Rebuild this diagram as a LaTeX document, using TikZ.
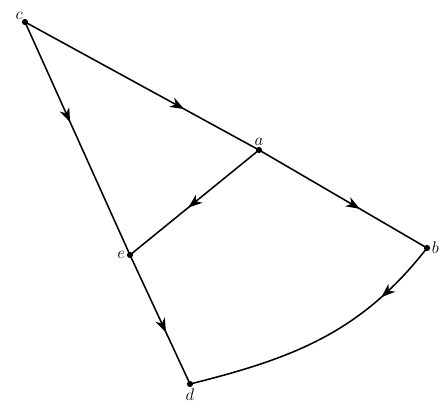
\documentclass[tikz,border=0pt]{standalone}
\usepackage{amsmath,amssymb}
\usepackage{xcolor}
\usetikzlibrary{arrows.meta,decorations.markings}

\tikzset{
  edge/.style={line width=1.1pt},
  midarrow/.style={postaction={decorate},
    decoration={markings,mark=at position #1 with {\arrow{Stealth[length=3.5mm,width=2.6mm,inset=1.1mm]}}}},
  vdot/.style={circle,fill,inner sep=0pt,minimum size=4.4pt},
  vlabel/.style={font=\large}
}

\begin{document}
\begin{tikzpicture}[line join=round]
  \useasboundingbox (0,0) rectangle (11.125,10.275);
  \coordinate (c) at (0.625,9.725);
  \coordinate (a) at (6.475,6.525);
  \coordinate (b) at (10.675,4.075);
  \coordinate (e) at (3.250,3.900);
  \coordinate (d) at (4.750,0.675);
  \draw[edge,midarrow=0.68] (c) -- (a);
  \draw[edge,midarrow=0.60] (a) -- (b);
  \draw[edge,midarrow=0.43] (c) -- (e);
  \draw[edge,midarrow=0.55] (a) -- (e);
  \draw[edge,midarrow=0.60] (e) -- (d);
  \draw[edge,midarrow=0.24] (b) to[out=-128,in=14] (d);
  \node[vdot] (nc) at (c) {};
  \node[vdot] (na) at (a) {};
  \node[vdot] (nb) at (b) {};
  \node[vdot] (ne) at (e) {};
  \node[vdot] (nd) at (d) {};
  \node[vlabel,above left=-2pt] (lc) at (c) {$c$};
  \node[vlabel,above=0pt] (la) at (a) {$a$};
  \node[vlabel,right=0pt] (lb) at (b) {$b$};
  \node[vlabel,left=0pt] (le) at (e) {$e$};
  \node[vlabel,below=0pt] (ld) at (d) {$d$};
\end{tikzpicture}
\end{document}
